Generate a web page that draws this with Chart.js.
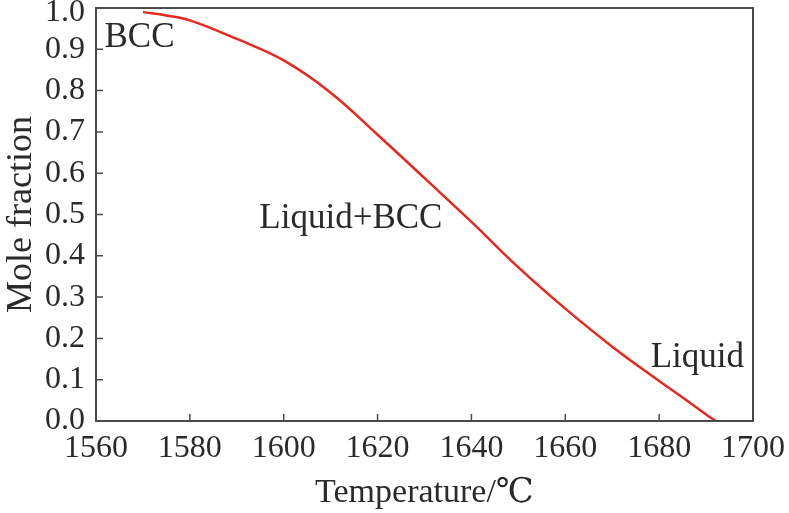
<!DOCTYPE html>
<html>
<head>
<meta charset="utf-8">
<script src="https://cdn.jsdelivr.net/npm/chart.js@4/dist/chart.umd.min.js"></script>
<style>
  html, body { margin: 0; padding: 0; background: #fff; }
  #wrap { width: 789px; height: 513px; }
</style>
</head>
<body>
<div id="wrap"><canvas id="moleChart"></canvas></div>
<script>
// BCC mole fraction
const temperatures = [1570, 1575, 1580, 1590, 1600, 1610, 1620, 1630, 1640, 1650, 1660, 1670, 1680, 1685, 1690, 1692];
const bccFraction = [0.99, 0.982, 0.97, 0.925, 0.873, 0.795, 0.693, 0.588, 0.482, 0.372, 0.272, 0.18, 0.097, 0.057, 0.016, 0.0];

const xTicks = [1560, 1580, 1600, 1620, 1640, 1660, 1680, 1700];
const yTicks = [0, 0.1, 0.2, 0.3, 0.4, 0.5, 0.6, 0.7, 0.8, 0.9, 1.0];

// region labels: [text, temperature, fraction]
const regionLabels = [
  ['BCC', 1561.8, 0.927],
  ['Liquid+BCC', 1594.8, 0.49],
  ['Liquid', 1678.2, 0.153]
];

const FONT = '"Liberation Serif", "DejaVu Serif", serif';
const TEXT = '#2a2a2a';
const AXIS = '#4a4a4a';

const frame = {
  id: 'frame',
  afterDraw(chart) {
    const { ctx, chartArea: a, scales } = chart;
    ctx.save();
    ctx.strokeStyle = AXIS;
    ctx.lineWidth = 2;
    ctx.strokeRect(a.left, a.top, a.right - a.left, a.bottom - a.top);
    ctx.lineWidth = 1.5;
    ctx.beginPath();
    xTicks.forEach(v => {
      const px = scales.x.getPixelForValue(v);
      ctx.moveTo(px, a.bottom);
      ctx.lineTo(px, a.bottom - 7);
    });
    yTicks.forEach(v => {
      const py = scales.y.getPixelForValue(v);
      ctx.moveTo(a.left, py);
      ctx.lineTo(a.left + 7, py);
    });
    ctx.stroke();

    ctx.fillStyle = TEXT;
    ctx.textBaseline = 'middle';

    // top tick label sits a little lower so it stays on the page
    ctx.font = '32px ' + FONT;
    ctx.textAlign = 'right';
    ctx.fillText((1).toFixed(1), a.left - 11, scales.y.getPixelForValue(1) + 5);

    ctx.font = '35px ' + FONT;
    ctx.textAlign = 'left';
    regionLabels.forEach(([t, xv, yv]) => {
      ctx.fillText(t, scales.x.getPixelForValue(xv), scales.y.getPixelForValue(yv));
    });
    ctx.restore();
  }
};

const ctx = document.getElementById('moleChart').getContext('2d');

new Chart(ctx, {
  type: 'line',
  data: {
    datasets: [{
      data: temperatures.map((t, i) => ({ x: t, y: bccFraction[i] })),
      borderColor: '#e8281e',
      borderWidth: 2.5,
      pointRadius: 0,
      fill: false,
      tension: 0.4
    }]
  },
  options: {
    responsive: true,
    maintainAspectRatio: false,
    animation: false,
    layout: { padding: { top: 8, right: 36, left: 0, bottom: 0 } },
    plugins: { legend: { display: false }, tooltip: { enabled: false } },
    scales: {
      x: {
        type: 'linear',
        min: 1560,
        max: 1700,
        afterBuildTicks: s => { s.ticks = xTicks.map(v => ({ value: v })); },
        afterFit: s => { s.height = 92; s.paddingLeft = 0; s.paddingRight = 0; },
        grid: { display: false, drawTicks: false },
        border: { display: false },
        ticks: {
          color: TEXT,
          font: { family: FONT, size: 32 },
          padding: 8,
          maxRotation: 0,
          autoSkip: false,
          callback: v => String(v)
        },
        title: {
          display: true,
          text: 'Temperature/℃',
          color: TEXT,
          font: { family: FONT, size: 34 },
          padding: { top: 10, bottom: 0 }
        }
      },
      y: {
        min: 0,
        max: 1,
        afterBuildTicks: s => { s.ticks = yTicks.map(v => ({ value: v })); },
        afterFit: s => { s.width = 96; s.paddingTop = 0; s.paddingBottom = 0; },
        grid: { display: false, drawTicks: false },
        border: { display: false },
        ticks: {
          color: TEXT,
          font: { family: FONT, size: 32 },
          padding: 11,
          autoSkip: false,
          callback: v => (v >= 1 ? '' : v.toFixed(1))
        },
        title: {
          display: true,
          text: 'Mole fraction',
          color: TEXT,
          font: { family: FONT, size: 36 },
          padding: { top: 0, bottom: 0 }
        }
      }
    }
  },
  plugins: [frame]
});
</script>
</body>
</html>
